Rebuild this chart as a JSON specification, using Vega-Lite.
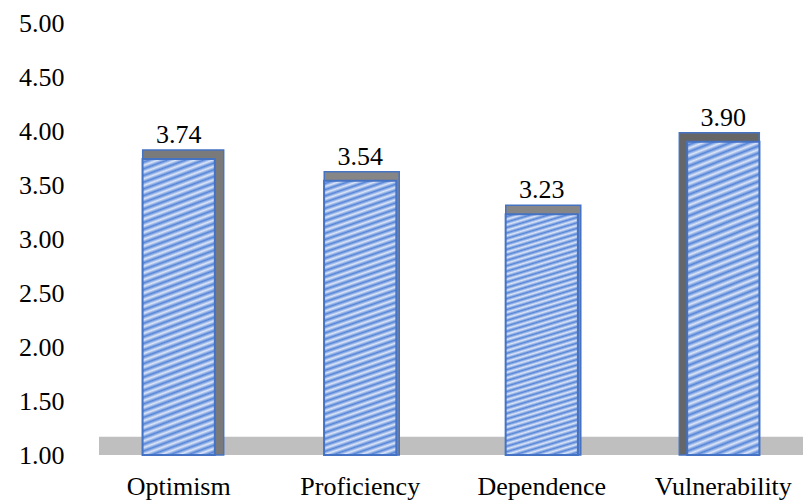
{
  "$schema": "https://vega.github.io/schema/vega-lite/v6.json",
  "autosize": {"type": "none"},
  "width": 704,
  "height": 432,
  "padding": {"left": 99, "top": 23, "right": 0, "bottom": 46},
  "background": "white",
  "config": {
    "view": {"stroke": null},
    "font": "Liberation Serif",
    "axisY": {
      "title": null,
      "domain": false,
      "ticks": false,
      "grid": false,
      "values": [1, 1.5, 2, 2.5, 3, 3.5, 4, 4.5, 5],
      "format": ".2f",
      "labelFont": "Liberation Serif",
      "labelFontSize": 26,
      "labelColor": "#000000",
      "labelPadding": 35
    }
  },
  "datasets": {
    "scores": [
      {"item": "Optimism", "score": 3.74},
      {"item": "Proficiency", "score": 3.54},
      {"item": "Dependence", "score": 3.23},
      {"item": "Vulnerability", "score": 3.90}
    ],
    "floor": [{"level": "base"}]
  },
  "resolve": {"scale": {"y": "shared"}},
  "layer": [
    {
      "data": {"name": "floor"},
      "mark": {"type": "rect", "fill": "#bfbfbf"},
      "encoding": {
        "x": {"value": 0},
        "x2": {"value": "width"},
        "y": {"datum": 1, "type": "quantitative", "scale": {"domain": [1, 5], "zero": false, "nice": false}, "title": null},
        "y2": {"datum": 1.17}
      }
    },
    {
      "data": {"name": "scores"},
      "encoding": {
        "x": {
          "field": "item",
          "type": "nominal",
          "sort": null,
          "scale": {"paddingInner": 0.602, "paddingOuter": 0.24},
          "axis": {
            "title": null,
            "domain": false,
            "ticks": false,
            "labelAngle": 0,
            "labelFont": "Liberation Serif",
            "labelFontSize": 26,
            "labelColor": "#000000",
            "labelPadding": 18
          }
        },
        "y": {
          "field": "score",
          "type": "quantitative",
          "scale": {"domain": [1, 5], "zero": false, "nice": false},
          "title": null
        }
      },
      "layer": [
        {
          "transform": [{"filter": "datum.item === 'Optimism'"}],
          "mark": {"type": "bar", "fill": "#7a7a7a", "stroke": "#4472c4", "strokeWidth": 1.5, "width": 81, "xOffset": 4.5, "yOffset": -9},
          "encoding": {"y2": {"datum": 1}}
        },
        {
          "transform": [{"filter": "datum.item === 'Proficiency' || datum.item === 'Dependence'"}],
          "mark": {"type": "bar", "fill": "#868686", "stroke": "#4472c4", "strokeWidth": 1.5, "width": 75, "xOffset": 1.5, "yOffset": -9},
          "encoding": {"y2": {"datum": 1}}
        },
        {
          "transform": [{"filter": "datum.item === 'Vulnerability'"}],
          "mark": {"type": "bar", "fill": "#666666", "stroke": "#4472c4", "strokeWidth": 1.5, "width": 80, "xOffset": -4, "yOffset": -9},
          "encoding": {"y2": {"datum": 1}}
        },
        {
          "mark": {
            "type": "bar",
            "stroke": "#4472c4",
            "strokeWidth": 2,
            "fill": {
              "gradient": "linear",
              "x1": 0, "y1": 0, "x2": 0.0973, "y2": 1.0811,
              "stops": [
                {"offset": 0, "color": "#dde6f8"}, {"offset": 0.0104, "color": "#5585d8"},
                {"offset": 0.0208, "color": "#dde6f8"}, {"offset": 0.0313, "color": "#5585d8"},
                {"offset": 0.0417, "color": "#dde6f8"}, {"offset": 0.0521, "color": "#5585d8"},
                {"offset": 0.0625, "color": "#dde6f8"}, {"offset": 0.0729, "color": "#5585d8"},
                {"offset": 0.0833, "color": "#dde6f8"}, {"offset": 0.0938, "color": "#5585d8"},
                {"offset": 0.1042, "color": "#dde6f8"}, {"offset": 0.1146, "color": "#5585d8"},
                {"offset": 0.125, "color": "#dde6f8"}, {"offset": 0.1354, "color": "#5585d8"},
                {"offset": 0.1458, "color": "#dde6f8"}, {"offset": 0.1563, "color": "#5585d8"},
                {"offset": 0.1667, "color": "#dde6f8"}, {"offset": 0.1771, "color": "#5585d8"},
                {"offset": 0.1875, "color": "#dde6f8"}, {"offset": 0.1979, "color": "#5585d8"},
                {"offset": 0.2083, "color": "#dde6f8"}, {"offset": 0.2188, "color": "#5585d8"},
                {"offset": 0.2292, "color": "#dde6f8"}, {"offset": 0.2396, "color": "#5585d8"},
                {"offset": 0.25, "color": "#dde6f8"}, {"offset": 0.2604, "color": "#5585d8"},
                {"offset": 0.2708, "color": "#dde6f8"}, {"offset": 0.2813, "color": "#5585d8"},
                {"offset": 0.2917, "color": "#dde6f8"}, {"offset": 0.3021, "color": "#5585d8"},
                {"offset": 0.3125, "color": "#dde6f8"}, {"offset": 0.3229, "color": "#5585d8"},
                {"offset": 0.3333, "color": "#dde6f8"}, {"offset": 0.3438, "color": "#5585d8"},
                {"offset": 0.3542, "color": "#dde6f8"}, {"offset": 0.3646, "color": "#5585d8"},
                {"offset": 0.375, "color": "#dde6f8"}, {"offset": 0.3854, "color": "#5585d8"},
                {"offset": 0.3958, "color": "#dde6f8"}, {"offset": 0.4063, "color": "#5585d8"},
                {"offset": 0.4167, "color": "#dde6f8"}, {"offset": 0.4271, "color": "#5585d8"},
                {"offset": 0.4375, "color": "#dde6f8"}, {"offset": 0.4479, "color": "#5585d8"},
                {"offset": 0.4583, "color": "#dde6f8"}, {"offset": 0.4688, "color": "#5585d8"},
                {"offset": 0.4792, "color": "#dde6f8"}, {"offset": 0.4896, "color": "#5585d8"},
                {"offset": 0.5, "color": "#dde6f8"}, {"offset": 0.5104, "color": "#5585d8"},
                {"offset": 0.5208, "color": "#dde6f8"}, {"offset": 0.5313, "color": "#5585d8"},
                {"offset": 0.5417, "color": "#dde6f8"}, {"offset": 0.5521, "color": "#5585d8"},
                {"offset": 0.5625, "color": "#dde6f8"}, {"offset": 0.5729, "color": "#5585d8"},
                {"offset": 0.5833, "color": "#dde6f8"}, {"offset": 0.5938, "color": "#5585d8"},
                {"offset": 0.6042, "color": "#dde6f8"}, {"offset": 0.6146, "color": "#5585d8"},
                {"offset": 0.625, "color": "#dde6f8"}, {"offset": 0.6354, "color": "#5585d8"},
                {"offset": 0.6458, "color": "#dde6f8"}, {"offset": 0.6563, "color": "#5585d8"},
                {"offset": 0.6667, "color": "#dde6f8"}, {"offset": 0.6771, "color": "#5585d8"},
                {"offset": 0.6875, "color": "#dde6f8"}, {"offset": 0.6979, "color": "#5585d8"},
                {"offset": 0.7083, "color": "#dde6f8"}, {"offset": 0.7188, "color": "#5585d8"},
                {"offset": 0.7292, "color": "#dde6f8"}, {"offset": 0.7396, "color": "#5585d8"},
                {"offset": 0.75, "color": "#dde6f8"}, {"offset": 0.7604, "color": "#5585d8"},
                {"offset": 0.7708, "color": "#dde6f8"}, {"offset": 0.7813, "color": "#5585d8"},
                {"offset": 0.7917, "color": "#dde6f8"}, {"offset": 0.8021, "color": "#5585d8"},
                {"offset": 0.8125, "color": "#dde6f8"}, {"offset": 0.8229, "color": "#5585d8"},
                {"offset": 0.8333, "color": "#dde6f8"}, {"offset": 0.8438, "color": "#5585d8"},
                {"offset": 0.8542, "color": "#dde6f8"}, {"offset": 0.8646, "color": "#5585d8"},
                {"offset": 0.875, "color": "#dde6f8"}, {"offset": 0.8854, "color": "#5585d8"},
                {"offset": 0.8958, "color": "#dde6f8"}, {"offset": 0.9063, "color": "#5585d8"},
                {"offset": 0.9167, "color": "#dde6f8"}, {"offset": 0.9271, "color": "#5585d8"},
                {"offset": 0.9375, "color": "#dde6f8"}, {"offset": 0.9479, "color": "#5585d8"},
                {"offset": 0.9583, "color": "#dde6f8"}, {"offset": 0.9688, "color": "#5585d8"},
                {"offset": 0.9792, "color": "#dde6f8"}, {"offset": 0.9896, "color": "#5585d8"},
                {"offset": 1, "color": "#dde6f8"}
              ]
            }
          },
          "encoding": {"y2": {"datum": 1}}
        },
        {
          "mark": {"type": "text", "font": "Liberation Serif", "fontSize": 26, "color": "#000000", "baseline": "middle", "dy": -24},
          "encoding": {
            "text": {"field": "score", "type": "quantitative", "format": ".2f"}
          }
        }
      ]
    }
  ]
}
